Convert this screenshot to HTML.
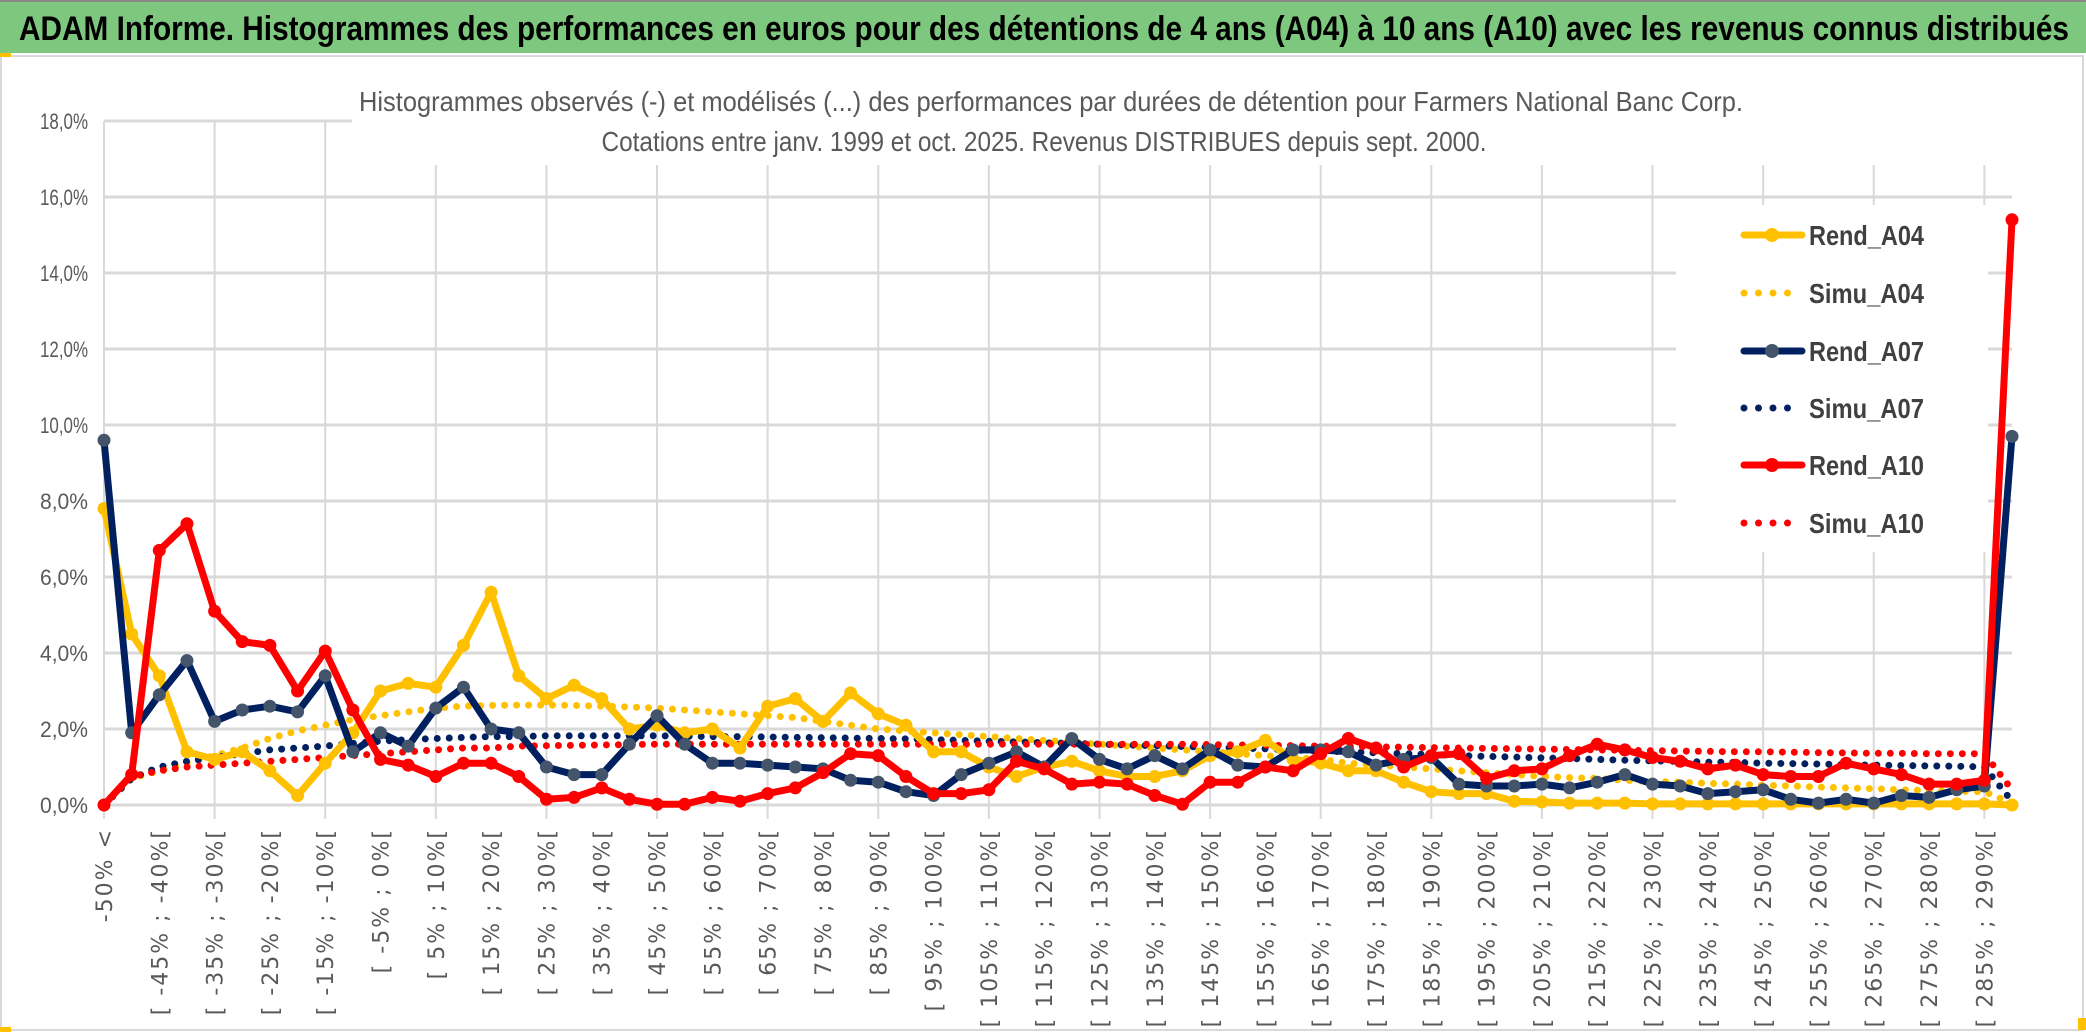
<!DOCTYPE html>
<html><head><meta charset="utf-8"><style>
html,body{margin:0;padding:0;background:#fff;}
svg{display:block;font-family:"Liberation Sans",sans-serif;}
</style></head><body>
<svg id="chart" width="2086" height="1033" viewBox="0 0 2086 1033" xmlns="http://www.w3.org/2000/svg">
<rect x="0" y="0" width="2086" height="1033" fill="#fff"/>
<rect x="0" y="0" width="2086" height="53" fill="#7ec77e"/>
<rect x="0" y="0" width="2086" height="2" fill="#888"/>
<text x="19" y="40" font-size="34" font-weight="bold" fill="#000" textLength="2050" lengthAdjust="spacingAndGlyphs">ADAM Informe. Histogrammes des performances en euros pour des détentions de 4 ans (A04) à 10 ans (A10) avec les revenus connus distribués</text>
<rect x="1" y="56" width="2082" height="974" fill="none" stroke="#d9d9d9" stroke-width="2"/>
<rect x="0" y="53" width="11" height="4" fill="#ffc000"/>
<rect x="0" y="1027" width="11" height="5" fill="#ffc000"/>
<rect x="2078" y="1018" width="8" height="12" fill="#ffc000"/>
<g id="grid"></g>
<rect x="352" y="60" width="1680" height="105" fill="#fff"/>
<text x="1051" y="111" font-size="28" fill="#595959" text-anchor="middle" textLength="1384" lengthAdjust="spacingAndGlyphs">Histogrammes observés (-) et modélisés (...) des performances par durées de détention pour Farmers National Banc Corp.</text>
<text x="1044" y="151" font-size="28" fill="#595959" text-anchor="middle" textLength="885" lengthAdjust="spacingAndGlyphs">Cotations entre janv. 1999 et oct. 2025. Revenus DISTRIBUES depuis sept. 2000.</text>
<g id="yaxis"></g>
<g id="xaxis"></g>
<rect x="1676" y="205" width="312" height="347" fill="#fff"/>
<g id="series"></g>
<g id="legend"></g>
</svg>
<script>
const categoryLabels = (function(){ const a=["-50% <","[ -50% ; -45%["]; for(let v=-45; v<=290; v+=5){ a.push("[ "+v+"% ; "+(v+5)+"%["); } return a; })();
const yTicks = [0,2,4,6,8,10,12,14,16,18];
const rendA04 = [7.8,4.5,3.4,1.4,1.2,1.4,0.9,0.25,1.1,1.9,3.0,3.2,3.1,4.2,5.6,3.4,2.8,3.15,2.8,2.0,2.1,1.9,2.0,1.5,2.6,2.8,2.2,2.95,2.4,2.1,1.4,1.4,1.0,0.75,1.0,1.15,0.9,0.75,0.75,0.9,1.3,1.4,1.7,1.2,1.1,0.9,0.9,0.6,0.35,0.3,0.3,0.1,0.08,0.05,0.05,0.05,0.03,0.03,0.03,0.03,0.03,0.03,0.03,0.03,0.03,0.03,0.03,0.03,0.03,0.0];
const simuA04 = [0,0.7,0.9,1.1,1.3,1.5,1.75,1.95,2.1,2.25,2.35,2.45,2.55,2.6,2.62,2.63,2.63,2.62,2.6,2.58,2.55,2.5,2.45,2.4,2.35,2.3,2.2,2.1,2.0,1.95,1.9,1.85,1.8,1.75,1.7,1.65,1.6,1.55,1.5,1.45,1.4,1.35,1.3,1.25,1.2,1.1,1.05,1.0,0.95,0.9,0.85,0.8,0.75,0.72,0.7,0.65,0.62,0.6,0.57,0.55,0.52,0.5,0.47,0.45,0.43,0.4,0.38,0.36,0.35,0.05];
const rendA07 = [9.6,1.9,2.9,3.8,2.2,2.5,2.6,2.45,3.4,1.4,1.9,1.55,2.55,3.1,2.0,1.9,1.0,0.8,0.8,1.6,2.35,1.6,1.1,1.1,1.05,1.0,0.95,0.65,0.6,0.35,0.25,0.8,1.1,1.4,1.0,1.75,1.2,0.95,1.3,0.95,1.45,1.05,1.0,1.45,1.45,1.4,1.05,1.2,1.25,0.55,0.5,0.5,0.55,0.45,0.6,0.8,0.55,0.5,0.3,0.35,0.4,0.15,0.05,0.15,0.05,0.25,0.2,0.4,0.5,9.7];
const simuA07 = [0,0.7,1.0,1.15,1.25,1.35,1.45,1.5,1.55,1.62,1.68,1.72,1.75,1.78,1.8,1.8,1.82,1.82,1.82,1.82,1.82,1.81,1.8,1.8,1.79,1.78,1.77,1.76,1.75,1.74,1.72,1.7,1.68,1.66,1.64,1.62,1.6,1.58,1.56,1.54,1.52,1.5,1.48,1.45,1.42,1.4,1.37,1.35,1.33,1.3,1.28,1.26,1.24,1.22,1.2,1.18,1.16,1.15,1.13,1.12,1.1,1.09,1.08,1.06,1.05,1.04,1.03,1.02,1.0,0.1];
const rendA10 = [0.0,0.8,6.7,7.4,5.1,4.3,4.2,3.0,4.05,2.5,1.2,1.05,0.75,1.1,1.1,0.75,0.15,0.2,0.45,0.15,0.02,0.02,0.2,0.1,0.3,0.45,0.85,1.35,1.3,0.75,0.3,0.3,0.4,1.15,0.95,0.55,0.6,0.55,0.25,0.02,0.6,0.6,1.0,0.9,1.35,1.75,1.5,1.0,1.3,1.35,0.7,0.9,0.95,1.3,1.6,1.45,1.25,1.15,0.95,1.05,0.8,0.75,0.75,1.1,0.95,0.8,0.55,0.55,0.65,15.4];
const simuA10 = [0,0.75,0.9,1.0,1.05,1.1,1.15,1.2,1.25,1.3,1.35,1.4,1.45,1.5,1.5,1.55,1.56,1.57,1.58,1.59,1.6,1.6,1.6,1.6,1.6,1.6,1.6,1.6,1.6,1.6,1.6,1.6,1.6,1.6,1.6,1.6,1.6,1.6,1.6,1.6,1.59,1.58,1.57,1.56,1.55,1.54,1.53,1.52,1.51,1.5,1.49,1.48,1.47,1.46,1.45,1.44,1.43,1.42,1.41,1.4,1.4,1.39,1.38,1.37,1.36,1.36,1.35,1.35,1.35,0.4];

const NS="http://www.w3.org/2000/svg";
const X0=104, X1=2012, Y0=805, YTOP=121, YMAX=18;
const n=categoryLabels.length;
function xs(i){ return X0 + i*(X1-X0)/(n-1); }
function ys(v){ return Y0 - v*(Y0-YTOP)/YMAX; }
function mk(tag, attrs, parent){ const e=document.createElementNS(NS,tag); for(const k in attrs) e.setAttribute(k,attrs[k]); parent.appendChild(e); return e; }

const grid=document.getElementById('grid');
yTicks.forEach(t=>{
  const l=mk('line',{x1:X0,x2:X1,y1:ys(t),y2:ys(t),stroke:'#d9d9d9','stroke-width':3},grid);
  
  
});
for(let i=0;i<n;i+=4){
  const l=mk('line',{x1:xs(i),x2:xs(i),y1:YTOP,y2:Y0+14,stroke:'#d9d9d9','stroke-width':2},grid);
  
  
}
const ya=document.getElementById('yaxis');
yTicks.forEach(t=>{
  const tx=mk('text',{x:88,y:ys(t)+8,'font-size':22,fill:'#595959','text-anchor':'end',textLength:48,lengthAdjust:'spacingAndGlyphs'},ya);
  tx.textContent=t.toFixed(1).replace('.',',')+'%';
  
  
});
const xa=document.getElementById('xaxis');
for(let i=0;i<n;i+=2){
  const x=xs(i)+8, y=828;
  const tx=mk('text',{x:x,y:y,'font-size':22,fill:'#595959','text-anchor':'end','font-family':'DejaVu Sans, sans-serif','letter-spacing':'2',transform:'rotate(-90 '+x+' '+y+')'},xa);
  tx.textContent=categoryLabels[i];
  
  
}
const sg=document.getElementById('series');
function pts(arr){ return arr.map((v,i)=>xs(i).toFixed(1)+','+ys(v).toFixed(1)).join(' '); }
function dotted(arr,color,name){
  const p=mk('polyline',{points:pts(arr),fill:'none',stroke:color,'stroke-width':7,'stroke-linecap':'round','stroke-dasharray':'0 12'},sg);
  
  
}
function solid(arr,color,mcolor,name){
  const g=mk('g',{},sg);
  
  
  mk('polyline',{points:pts(arr),fill:'none',stroke:color,'stroke-width':7,'stroke-linejoin':'round'},g);
  arr.forEach((v,i)=>{
    const c=mk('circle',{cx:xs(i),cy:ys(v),r:6.5,fill:mcolor},g);
    
    
  });
}
dotted(simuA04,'#ffc000','simu-a04-line');
dotted(simuA07,'#002060','simu-a07-line');
dotted(simuA10,'#ff0000','simu-a10-line');
solid(rendA04,'#ffc000','#ffc000','rend-a04-line');
solid(rendA07,'#002060','#44546a','rend-a07-line');
solid(rendA10,'#ff0000','#ff0000','rend-a10-line');

const lg=document.getElementById('legend');
const entries=[['Rend_A04','#ffc000','#ffc000',false],['Simu_A04','#ffc000','',true],['Rend_A07','#002060','#44546a',false],['Simu_A07','#002060','',true],['Rend_A10','#ff0000','#ff0000',false],['Simu_A10','#ff0000','',true]];
const ly=[235,293,351,408,465,523];
entries.forEach((e,k)=>{
  const g=mk('g',{},lg);
  
  
  const y=ly[k];
  if(e[3]){
    mk('line',{x1:1744,x2:1802,y1:y,y2:y,stroke:e[1],'stroke-width':7,'stroke-linecap':'round','stroke-dasharray':'0 14.5'},g);
  } else {
    mk('line',{x1:1744,x2:1802,y1:y,y2:y,stroke:e[1],'stroke-width':7,'stroke-linecap':'round'},g);
    mk('circle',{cx:1772,cy:y,r:7,fill:e[2]},g);
  }
  const t=mk('text',{x:1809,y:y+10,'font-size':28,fill:'#404040','font-weight':'bold',textLength:115,lengthAdjust:'spacingAndGlyphs'},g);
  t.textContent=e[0];
});
</script>
</body></html>
